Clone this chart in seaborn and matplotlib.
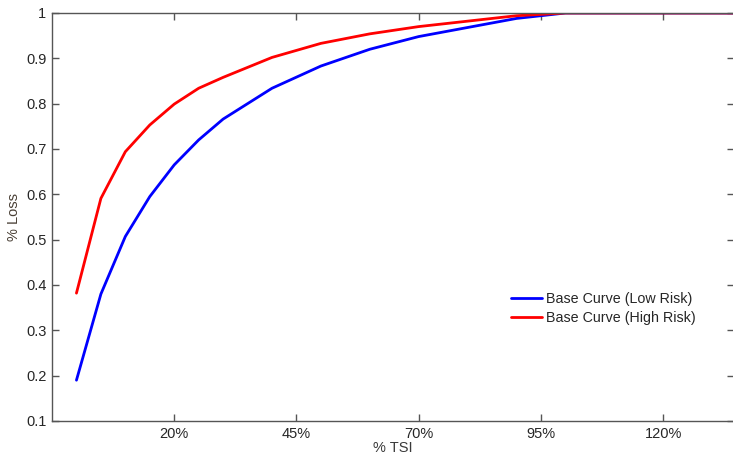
import numpy as np
import pandas as pd
import matplotlib
matplotlib.use('Agg')
import matplotlib.pyplot as plt
import seaborn as sns

# % TSI (x) and % Loss for both base curves
tsi = [0, 5, 10, 15, 20, 25, 30, 35, 40, 50, 60, 70, 80, 90, 100, 110, 120, 130, 140]
lowRisk = [0.19, 0.38, 0.507, 0.595, 0.665, 0.72, 0.766, 0.80, 0.834, 0.883, 0.92, 0.948, 0.968, 0.988, 1, 1, 1, 1, 1]
highRisk = [0.382, 0.591, 0.694, 0.753, 0.799, 0.834, 0.858, 0.88, 0.902, 0.933, 0.954, 0.970, 0.982, 0.994, 1, 1, 1, 1, 1]
xticks = [20, 45, 70, 95, 120]
xtickLabels = ['20%', '45%', '70%', '95%', '120%']
yticks = [0.1, 0.2, 0.3, 0.4, 0.5, 0.6, 0.7, 0.8, 0.9, 1]
yTickLabels = ['0.1', '0.2', '0.3', '0.4', '0.5', '0.6', '0.7', '0.8', '0.9', '1']
names = ['Base Curve (Low Risk)', 'Base Curve (High Risk)']

df = pd.concat([
    pd.DataFrame({'TSI': tsi, 'Loss': lowRisk, 'Curve': names[0]}),
    pd.DataFrame({'TSI': tsi, 'Loss': highRisk, 'Curve': names[1]}),
])

sns.set_style('ticks')
plt.rcParams['font.family'] = ['Liberation Sans', 'DejaVu Sans']

fig = plt.figure(figsize=(7.33, 4.54), dpi=100)
ax = fig.add_axes([52/733, 33/454, 682/733, 408/454])
sns.lineplot(data=df, x='TSI', y='Loss', hue='Curve', palette=['#0000ff', '#ff0000'],
             linewidth=2, ax=ax, sort=False)

ax.set_xlim(-5, 134.5)
ax.set_ylim(0.1, 1)
ax.set_xticks(xticks)
ax.set_xticklabels(xtickLabels)
ax.set_yticks(yticks)
ax.set_yticklabels(yTickLabels)
ax.tick_params(direction='in', length=5, width=1, color='#555555', labelsize=10.5,
               labelcolor='#262626', top=True, right=True, pad=4)
for s in ax.spines.values():
    s.set_visible(True)
    s.set_color('#555555')
    s.set_linewidth(1)
ax.set_xlabel('% TSI', fontsize=10.5, color='#3a3a3a', labelpad=0)
ax.set_ylabel('% Loss', fontsize=10.5, color='#4a4036', labelpad=4)

ax.legend(frameon=False, fontsize=10.3, loc='upper left', bbox_to_anchor=(505/733, 1 - 286/454),
          bbox_transform=fig.transFigure, handlelength=2.2, handletextpad=0.3,
          labelspacing=0.35, borderaxespad=0)

plt.savefig('out.png', dpi=100)
